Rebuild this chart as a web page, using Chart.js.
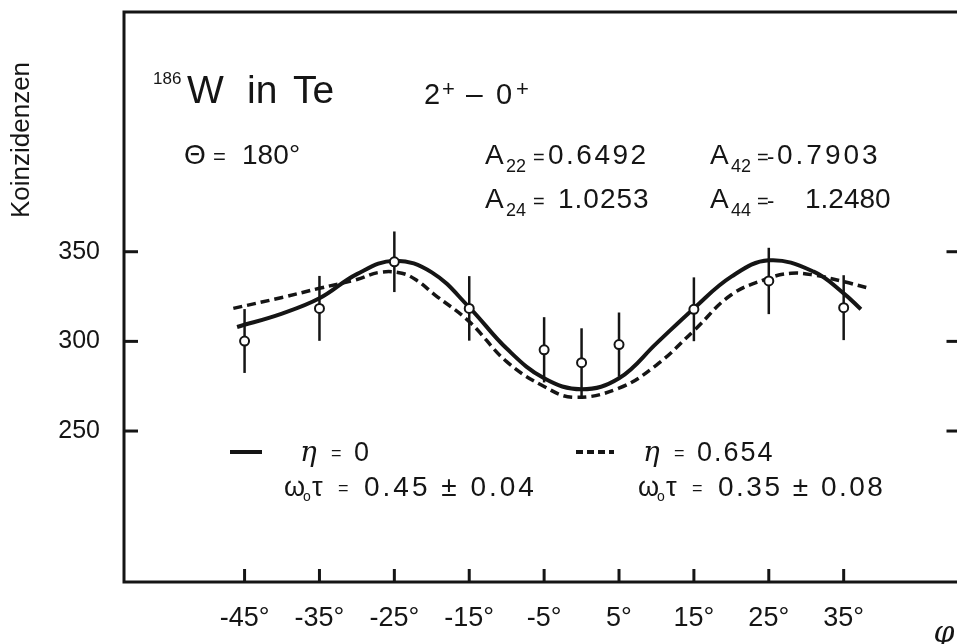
<!DOCTYPE html>
<html><head><meta charset="utf-8">
<script src="https://cdn.jsdelivr.net/npm/chart.js@4"></script>
<style>
html,body{margin:0;padding:0;background:#fff;overflow:hidden;width:957px;height:644px}
#wrap{position:absolute;left:0;top:0;width:967px;height:644px}
</style></head><body>
<div id="wrap"><canvas id="c"></canvas></div>
<script>
// measured coincidences
const phi    = [-45, -35, -25, -15, -5, 0, 5, 15, 25, 35];
const counts = [300.2, 318.4, 344.4, 318.4, 295.3, 288.1, 298.2, 317.9, 333.7, 318.8];
const errors = [17.8, 18.1, 16.9, 18.0, 18.2, 19.2, 17.9, 17.8, 18.5, 18.1];
// fitted curve eta = 0
const fitPhiA = [-46, -40, -35, -30, -25, -20, -15, -10, -5, 0, 5, 10, 15, 20, 25, 31, 35, 37.3];
const fitA    = [308, 315.5, 324, 337.5, 345, 338.5, 319, 296, 279.4, 273.3, 279.4, 298.9, 318.4, 336.1, 345.2, 338.9, 326.8, 317.9];
// fitted curve eta = 0.654
const fitPhiB = [-46.5, -40, -35, -30, -27, -24, -22, -19.6, -15, -10, -5, -1, 5, 10, 15, 20, 25, 28, 31, 35, 38.4];
const fitB    = [318.4, 324.5, 329.6, 334.5, 338.5, 338, 334, 326, 311, 288.7, 274.8, 268.8, 273.9, 286.8, 306, 326, 335.2, 338, 337, 333.3, 329.6];
const xTicks = [-45, -35, -25, -15, -5, 5, 15, 25, 35];
const yTicks = [250, 300, 350];

const F = '"Liberation Sans", Arial, sans-serif';
const INK = '#151515';

const pts = (xs, ys) => xs.map((x, i) => ({x, y: ys[i]}));

const errorBars = {
  id: 'errorBars',
  beforeDatasetDraw(chart, args) {
    if (args.index !== 0) return;
    const {ctx, scales: {x, y}} = chart;
    ctx.save();
    ctx.strokeStyle = INK; ctx.lineWidth = 2.5;
    phi.forEach((p, i) => {
      const px = x.getPixelForValue(p);
      ctx.beginPath();
      ctx.moveTo(px, y.getPixelForValue(counts[i] + errors[i]));
      ctx.lineTo(px, y.getPixelForValue(counts[i] - errors[i]));
      ctx.stroke();
    });
    ctx.restore();
  }
};

const frame = {
  id: 'frame',
  beforeDatasetsDraw(chart) {
    const {ctx, chartArea: a, scales: {x, y}} = chart;
    ctx.save();
    ctx.strokeStyle = INK; ctx.lineWidth = 3;
    ctx.strokeRect(a.left, a.top, a.right - a.left, a.bottom - a.top);
    xTicks.forEach(v => {
      const px = x.getPixelForValue(v);
      ctx.beginPath(); ctx.moveTo(px, a.bottom); ctx.lineTo(px, a.bottom - 13); ctx.stroke();
    });
    yTicks.forEach(v => {
      const py = y.getPixelForValue(v);
      ctx.beginPath(); ctx.moveTo(a.left, py); ctx.lineTo(a.left + 14, py); ctx.stroke();
      ctx.beginPath(); ctx.moveTo(a.right, py); ctx.lineTo(a.right - 14, py); ctx.stroke();
    });
    ctx.restore();
  }
};

const SER = 'italic {s}px "DejaVu Serif", serif';
const texts = [
  {t:'186', x:153, y:84, s:17},
  {t:'W', x:187, y:103, s:39},
  {t:'in', x:247, y:103, s:39},
  {t:'Te', x:293, y:103, s:39},
  {t:'2', x:424, y:104, s:29},
  {t:'+', x:442, y:96, s:22},
  {t:'–', x:466, y:104, s:30},
  {t:'0', x:496, y:104, s:29},
  {t:'+', x:516, y:96, s:22},
  {t:'Θ', x:184, y:164, s:28},
  {t:'=', x:213, y:164, s:22},
  {t:'180', x:242, y:164, s:28},
  {t:'°', x:289, y:164, s:28},
  {t:'A', x:485, y:164, s:28}, {t:'22', x:506, y:172, s:18}, {t:'=', x:533, y:164, s:20}, {t:'0.6492', x:548, y:164, s:28, ls:2.5},
  {t:'A', x:485, y:208, s:28}, {t:'24', x:506, y:216, s:18}, {t:'=', x:533, y:208, s:20}, {t:'1.0253', x:558, y:208, s:28, ls:1},
  {t:'A', x:710, y:164, s:28}, {t:'42', x:731, y:172, s:18}, {t:'=', x:757, y:164, s:20}, {t:'-', x:767, y:164, s:22}, {t:'0.7903', x:777, y:164, s:28, ls:3},
  {t:'A', x:710, y:208, s:28}, {t:'44', x:731, y:216, s:18}, {t:'=', x:757, y:208, s:20}, {t:'-', x:767, y:208, s:22}, {t:'1.2480', x:805, y:208, s:28},
  {t:'η', x:300, y:461, s:28, f:SER},
  {t:'=', x:331, y:459, s:18},
  {t:'0', x:354, y:461, s:27},
  {t:'η', x:643, y:461, s:28, f:SER},
  {t:'=', x:674, y:459, s:18},
  {t:'0.654', x:697, y:461, s:27, ls:2},
  {t:'ω', x:284, y:496, s:27}, {t:'o', x:303, y:501, s:14}, {t:'τ', x:312, y:496, s:27},
  {t:'=', x:338, y:494, s:18}, {t:'0.45 ± 0.04', x:364, y:496, s:28, ls:3},
  {t:'ω', x:638, y:496, s:27}, {t:'o', x:657, y:501, s:14}, {t:'τ', x:666, y:496, s:27},
  {t:'=', x:692, y:494, s:18}, {t:'0.35 ± 0.08', x:718, y:496, s:28, ls:2.5},
];

const annot = {
  id: 'annot',
  afterDraw(chart) {
    const ctx = chart.ctx;
    ctx.save();
    ctx.fillStyle = INK;
    ctx.textBaseline = 'alphabetic';
    ctx.textAlign = 'left';
    texts.forEach(o => {
      ctx.font = o.f ? o.f.replace('{s}', o.s) : (o.s + 'px ' + F);
      ctx.letterSpacing = (o.ls || 0) + 'px';
      ctx.fillText(o.t, o.x, o.y);
    });
    ctx.letterSpacing = '0px';
    // legend samples
    ctx.strokeStyle = INK; ctx.lineWidth = 4;
    ctx.beginPath(); ctx.moveTo(230, 452); ctx.lineTo(262, 452); ctx.stroke();
    ctx.setLineDash([7, 4]);
    ctx.beginPath(); ctx.moveTo(576, 452); ctx.lineTo(614, 452); ctx.stroke();
    ctx.setLineDash([]);
    // axis titles
    ctx.font = '26px ' + F;
    ctx.save();
    ctx.translate(22, 140); ctx.rotate(-Math.PI / 2);
    ctx.textAlign = 'center'; ctx.textBaseline = 'middle';
    ctx.fillText('Koinzidenzen', 0, 0);
    ctx.restore();
    ctx.font = 'italic 30px "DejaVu Serif", serif';
    ctx.textAlign = 'center';
    ctx.fillText('φ', 944, 642);
    ctx.restore();
  }
};

new Chart(document.getElementById('c'), {
  type: 'line',
  data: {
    datasets: [
      {data: pts(phi, counts), showLine: false, pointRadius: 4.5, pointHoverRadius: 4.5,
       pointBackgroundColor: '#fff', pointBorderColor: INK, pointBorderWidth: 2},
      {data: pts(fitPhiA, fitA), borderColor: INK, borderWidth: 4, pointRadius: 0,
       tension: 0.4, fill: false},
      {data: pts(fitPhiB, fitB), borderColor: INK, borderWidth: 3.5, borderDash: [9, 5], pointRadius: 0,
       tension: 0.4, fill: false}
    ]
  },
  options: {
    responsive: true, maintainAspectRatio: false, animation: false,
    layout: {padding: {top: 12, right: 2, left: 0, bottom: 0}},
    plugins: {legend: {display: false}, tooltip: {enabled: false}},
    scales: {
      x: {type: 'linear', min: -61.1, max: 50.6,
          afterBuildTicks: s => { s.ticks = xTicks.map(v => ({value: v})); },
          afterFit: s => { s.height = 62; s.paddingLeft = 0; s.paddingRight = 0; },
          grid: {display: false, drawTicks: false}, border: {display: false},
          ticks: {callback: v => (v < 0 ? '-' : '') + Math.abs(v) + '°', color: INK,
                  font: {family: F, size: 27}, padding: 20, maxRotation: 0, autoSkip: false}},
      y: {min: 165.8, max: 483.7,
          afterBuildTicks: s => { s.ticks = yTicks.map(v => ({value: v})); },
          afterFit: s => { s.width = 124; s.paddingTop = 0; s.paddingBottom = 0; },
          grid: {display: false, drawTicks: false}, border: {display: false},
          ticks: {color: INK, font: {family: F, size: 25}, padding: 24}}
    }
  },
  plugins: [frame, errorBars, annot]
});
</script>
</body></html>
